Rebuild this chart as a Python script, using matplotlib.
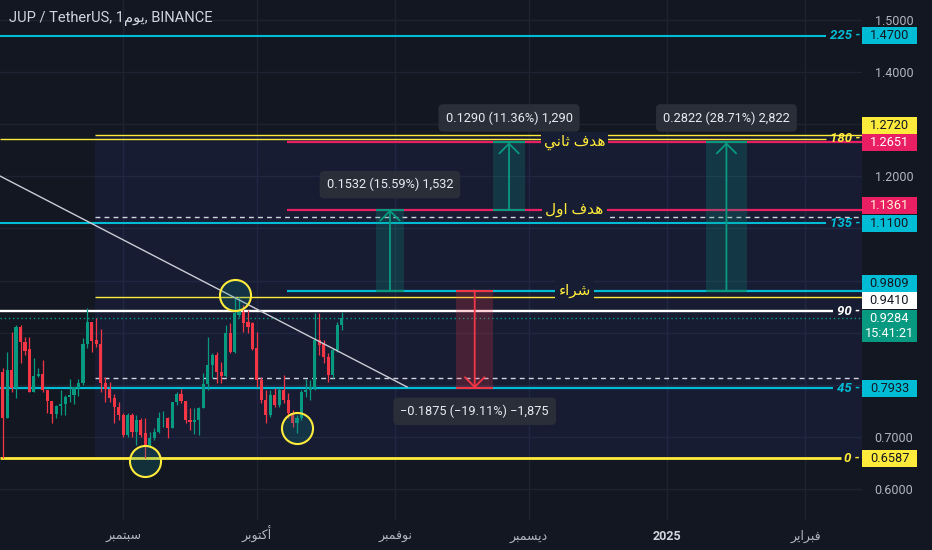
import numpy as np
import pandas as pd
import matplotlib
matplotlib.use('Agg')
import matplotlib.pyplot as plt
import matplotlib.dates as mdates
import matplotlib.transforms as mtransforms
from matplotlib.patches import Rectangle
from matplotlib.colors import to_rgb

plt.rcParams['font.family'] = ['Roboto', 'DejaVu Sans']

# ---------------- data ----------------
first_day = '2024-08-05'
opens = [0.8251, 0.7356, 0.8283, 0.7932, 0.9115, 0.8827, 0.8686, 0.7855, 0.8175, 0.8200,
         0.7900, 0.7689, 0.7433, 0.7599, 0.7625, 0.7772, 0.7804, 0.7932, 0.8028, 0.8776,
         0.9198, 0.8859, 0.8776, 0.8028, 0.7912, 0.7740, 0.7580, 0.7420, 0.7036, 0.7420,
         0.7100, 0.7324, 0.7068, 0.6812, 0.6972, 0.7088, 0.7356, 0.7369, 0.7177, 0.7663,
         0.7817, 0.7689, 0.7324, 0.7279, 0.7324, 0.7561, 0.8015, 0.8379, 0.8571, 0.8251,
         0.8175, 0.8987, 0.8635, 0.9339, 0.9403, 0.9211, 0.9179, 0.8699, 0.8091, 0.7708,
         0.7420, 0.7804, 0.7612, 0.7900, 0.7708, 0.7452, 0.7260, 0.7356, 0.7868, 0.7900,
         0.7932, 0.8859, 0.8795, 0.8539, 0.8187, 0.8667, 0.9147]
highs = [0.8315, 0.8635, 0.9019, 0.9147, 0.9147, 0.8923, 0.8923, 0.8507, 0.8315, 0.8475,
         0.7900, 0.7689, 0.7612, 0.7900, 0.7804, 0.8111, 0.7964, 0.8111, 0.8891, 0.9467,
         0.9198, 0.9275, 0.9070, 0.8156, 0.8060, 0.7817, 0.7676, 0.7452, 0.7452, 0.7452,
         0.7420, 0.7356, 0.7356, 0.7100, 0.7177, 0.7484, 0.7497, 0.7388, 0.7676, 0.7855,
         0.7919, 0.7689, 0.7548, 0.7548, 0.7580, 0.8219, 0.8923, 0.8603, 0.8635, 0.8443,
         0.9147, 0.9179, 0.9691, 0.9691, 0.9531, 0.9435, 0.9211, 0.9019, 0.8155, 0.7900,
         0.7900, 0.7932, 0.7932, 0.8187, 0.7836, 0.7516, 0.7420, 0.7900, 0.8104, 0.8091,
         0.9371, 0.9384, 0.8859, 0.8603, 0.8699, 0.9211, 0.9403]
lows = [0.6588, 0.7356, 0.7868, 0.7740, 0.8411, 0.8571, 0.7855, 0.7855, 0.8156, 0.7855,
        0.7452, 0.7260, 0.7356, 0.7420, 0.7420, 0.7676, 0.7625, 0.7791, 0.7996, 0.8699,
        0.8635, 0.8731, 0.7868, 0.7676, 0.7676, 0.7260, 0.7324, 0.7004, 0.7004, 0.7004,
        0.6844, 0.7004, 0.6588, 0.6812, 0.6940, 0.7068, 0.7196, 0.6972, 0.7164, 0.7612,
        0.7644, 0.7260, 0.7132, 0.7049, 0.7036, 0.7548, 0.7900, 0.8124, 0.8028, 0.8028,
        0.8156, 0.8603, 0.8603, 0.9307, 0.9019, 0.8987, 0.8667, 0.7964, 0.7644, 0.7260,
        0.7388, 0.7580, 0.7580, 0.7644, 0.7356, 0.7196, 0.7068, 0.7324, 0.7772, 0.7708,
        0.7900, 0.8571, 0.8411, 0.8059, 0.8123, 0.8635, 0.9051]
closes = [0.7356, 0.8283, 0.7932, 0.9115, 0.8827, 0.8648, 0.7855, 0.8175, 0.8200, 0.7900,
          0.7689, 0.7433, 0.7599, 0.7637, 0.7772, 0.7804, 0.7951, 0.8028, 0.8776, 0.9198,
          0.8840, 0.8776, 0.8028, 0.7912, 0.7740, 0.7580, 0.7420, 0.7036, 0.7420, 0.7100,
          0.7324, 0.7036, 0.6812, 0.6972, 0.7088, 0.7356, 0.7369, 0.7177, 0.7663, 0.7817,
          0.7689, 0.7324, 0.7279, 0.7324, 0.7561, 0.8015, 0.8379, 0.8571, 0.8251, 0.8175,
          0.8987, 0.8635, 0.9371, 0.9435, 0.9179, 0.9115, 0.8680, 0.8091, 0.7708, 0.7420,
          0.7804, 0.7612, 0.7900, 0.7708, 0.7452, 0.7260, 0.7356, 0.7868, 0.7900, 0.7964,
          0.8859, 0.8763, 0.8539, 0.8187, 0.8667, 0.9147, 0.9284]

title_text = ['JUP / TetherUS, 1', 'يوم', ', BINANCE']

level_names = ['0', '45', '90', '135', '180', '225']
level_prices = [0.6587, 0.7933, 0.9410, 1.1100, 1.2720, 1.4700]

buy_price = 0.9809
target1_price = 1.1361
target2_price = 1.2651
stop_price = 0.7933
last_price = 0.9284
countdown = '15:41:21'

zone_low, zone_high = 0.6587, 1.2795
dashed_prices = [1.1225, 0.8124]

trend_days = [3.4, 94.7]          # days after 2024-08-01
trend_prices = [1.2006, 0.7957]

circle_days = [35.9, 56.0, 70.0]
circle_prices = [0.6541, 0.9732, 0.7180]

measure_days = [(87.7, 94.0), (114.0, 121.1), (161.7, 170.9), (105.7, 114.0)]
measure_from = [0.9809, 1.1361, 0.9809, 0.9809]
measure_to = [1.1361, 1.2651, 1.2651, 0.7933]
measure_labels = ['0.1532 (15.59%) 1,532', '0.1290 (11.36%) 1,290',
                  '0.2822 (28.71%) 2,822', '\u22120.1875 (\u221219.11%) \u22121,875']

line_labels = ['هدف ثاني', 'هدف اول', 'شراء']
line_label_prices = [target2_price, target1_price, buy_price]

month_dates = ['2024-09-01', '2024-10-01', '2024-11-01', '2024-12-01', '2025-01-01', '2025-02-01']
month_labels = ['سبتمبر', 'أكتوبر', 'نوفمبر', 'ديسمبر', '2025', 'فبراير']
price_ticks = [0.6, 0.7, 0.8, 0.9, 1.0, 1.1, 1.2, 1.3, 1.4, 1.5]
price_ticks_shown = [0.6, 0.7, 1.2, 1.4, 1.5]   # the rest sit under price tags

# ---------------- Arabic shaping (presentation forms) ----------------
AR = {
    '\u0621': ('\uFE80', None, None, None),
    '\u0623': ('\uFE83', '\uFE84', None, None),
    '\u0627': ('\uFE8D', '\uFE8E', None, None),
    '\u0628': ('\uFE8F', '\uFE90', '\uFE91', '\uFE92'),
    '\u062A': ('\uFE95', '\uFE96', '\uFE97', '\uFE98'),
    '\u062B': ('\uFE99', '\uFE9A', '\uFE9B', '\uFE9C'),
    '\u062F': ('\uFEA9', '\uFEAA', None, None),
    '\u0631': ('\uFEAD', '\uFEAE', None, None),
    '\u0633': ('\uFEB1', '\uFEB2', '\uFEB3', '\uFEB4'),
    '\u0634': ('\uFEB5', '\uFEB6', '\uFEB7', '\uFEB8'),
    '\u0641': ('\uFED1', '\uFED2', '\uFED3', '\uFED4'),
    '\u0643': ('\uFED9', '\uFEDA', '\uFEDB', '\uFEDC'),
    '\u0644': ('\uFEDD', '\uFEDE', '\uFEDF', '\uFEE0'),
    '\u0645': ('\uFEE1', '\uFEE2', '\uFEE3', '\uFEE4'),
    '\u0646': ('\uFEE5', '\uFEE6', '\uFEE7', '\uFEE8'),
    '\u0647': ('\uFEE9', '\uFEEA', '\uFEEB', '\uFEEC'),
    '\u0648': ('\uFEED', '\uFEEE', None, None),
    '\u064A': ('\uFEF1', '\uFEF2', '\uFEF3', '\uFEF4'),
}


def shape(s):
    if not any(ch in AR for ch in s):
        return s
    out = []
    n = len(s)
    for i, ch in enumerate(s):
        f = AR.get(ch)
        if f is None:
            out.append(ch)
            continue
        prv = AR.get(s[i - 1]) if i > 0 else None
        nxt = AR.get(s[i + 1]) if i < n - 1 else None
        jp = prv is not None and prv[2] is not None and f[1] is not None
        jn = nxt is not None and f[2] is not None and nxt[1] is not None
        if jp and jn:
            out.append(f[3])
        elif jp:
            out.append(f[1])
        elif jn:
            out.append(f[2])
        else:
            out.append(f[0])
    return ''.join(reversed(out))


# ---------------- figure ----------------
W, H = 932, 550
BG = '#131722'
CYAN = '#00bcd4'
YEL = '#ffeb3b'
PINK = '#e91e63'
UP = '#089981'
DN = '#f23645'
TXT = '#b2b5be'
RECT_C = '#2d3c8f'
RECT_A = 0.16
mask_c = tuple(RECT_A * np.array(to_rgb(RECT_C)) + (1 - RECT_A) * np.array(to_rgb(BG)))

fig = plt.figure(figsize=(W / 100, H / 100), dpi=100, facecolor=BG)
ax = fig.add_axes([0, 30 / H, 862 / W, 520 / H])
ax.set_facecolor(BG)
for sp in ax.spines.values():
    sp.set_visible(False)

base = mdates.date2num(pd.Timestamp('2024-08-01'))
xl0, xl1 = base + 3.4, base + 196.7
ax.set_xlim(xl0, xl1)
ax.set_ylim(0.5405, 1.5384)
blend = mtransforms.blended_transform_factory(ax.transAxes, ax.transData)

# grid + ticks
ax.set_axisbelow(True)
ax.grid(True, color='#1f2331', lw=1)
ax.yaxis.tick_right()
ax.set_yticks(price_ticks)
ax.set_yticklabels([f'{p:.4f}' if any(abs(p - q) < 1e-9 for q in price_ticks_shown) else ''
                    for p in price_ticks])
ax.tick_params(axis='y', length=0, pad=9, labelsize=9, labelcolor=TXT)
mx = [mdates.date2num(pd.Timestamp(d)) for d in month_dates]
ax.set_xticks(mx)
ax.set_xticklabels([shape(m) for m in month_labels])
ax.tick_params(axis='x', length=0, pad=14.5, labelsize=9, labelcolor=TXT)
for t in ax.get_xticklabels():
    t.set_verticalalignment('baseline')
    if t.get_text() == '2025':
        t.set_fontweight('bold')
        t.set_color('#d1d4dc')

# zone rectangle
zx0 = base + 24.7
ax.add_patch(Rectangle((zx0, zone_low), xl1 - zx0 + 5, zone_high - zone_low,
                       fc=RECT_C, alpha=RECT_A, ec='none', zorder=1))
ax.hlines([zone_high, (zone_high + zone_low) / 2], zx0, xl1 + 5, colors=YEL, lw=1.0, zorder=2)
ax.hlines(dashed_prices, zx0, xl1 - 0.5, colors='#d1d4dc', lw=1.0, linestyles=(0, (3.5, 3)), zorder=2)

# gann levels
level_colors = [YEL, CYAN, '#ffffff', CYAN, YEL, CYAN]
level_lw = [2.0, 1.6, 1.7, 1.5, 1.0, 1.5]
for name, p, col, lw in zip(level_names, level_prices, level_colors, level_lw):
    end_px = 862 - 14 - 7.5 * len(name)
    ax.plot([0, end_px / 862], [p, p], transform=blend, color=col, lw=lw, zorder=2,
            solid_capstyle='butt')
    ax.text(860 / 862, p, f'{name} -', transform=blend, ha='right', va='center',
            color=col, fontsize=9.5, style='italic', fontweight='bold', zorder=6)

# current price line
ax.axhline(last_price, color=UP, lw=1, linestyle=(0, (1, 2)), zorder=2)

# target/buy lines
lstart = base + 67.8
ax.hlines([target2_price, target1_price], lstart, xl1 + 5, colors=PINK, lw=1.6, zorder=2.2)
ax.hlines([buy_price], lstart, xl1 + 5, colors=CYAN, lw=1.6, zorder=2.2)

# candles
xs = mdates.date2num(pd.date_range(first_day, periods=len(opens), freq='D'))
o = np.array(opens); h = np.array(highs); l = np.array(lows); c = np.array(closes)
cols = np.where(c >= o, UP, DN)
ax.vlines(xs, l, h, colors=cols, lw=0.9, zorder=3)
ax.bar(xs, np.maximum(np.abs(c - o), 0.0015), bottom=np.minimum(o, c), width=0.7,
       color=cols, linewidth=0, zorder=3.5)

# trend line
ax.plot([base + d for d in trend_days], trend_prices, color='#c9ccd4', lw=1.0, zorder=4)

# circles
ax.scatter([base + d for d in circle_days], circle_prices, s=500,
           facecolors=[(0.05, 0.55, 0.55, 0.22)], edgecolors=YEL, linewidths=1.5, zorder=5)

# measurement tools
label_dys = [25, 24.5, 24.5, -23]
for (d0, d1), pf, pt, lab, ldy in zip(measure_days, measure_from, measure_to, measure_labels, label_dys):
    col = UP if pt > pf else DN
    xa, xb = base + d0, base + d1
    ax.add_patch(Rectangle((xa, min(pf, pt)), xb - xa, abs(pt - pf), fc=col, alpha=0.22,
                           ec='none', zorder=2.5))
    ax.hlines([pf, pt], xa, xb, colors=col, lw=1.5, zorder=2.6)
    xc = (xa + xb) / 2
    ax.annotate('', xy=(xc, pt), xytext=(xc, pf),
                arrowprops=dict(arrowstyle='->,head_length=0.7,head_width=0.7', color=col,
                                lw=1.3, shrinkA=0, shrinkB=0), zorder=2.7)
    ax.annotate(lab, xy=(xc, pt), xytext=(0, ldy), textcoords='offset pixels',
                ha='center', va='center', fontsize=9.2, color='#e8eaf0', zorder=7,
                bbox=dict(boxstyle='round,pad=0.55,rounding_size=0.35', fc='#2a2e39', ec='none'))

# Arabic line labels
lx = (lstart + xl1) / 2
for txt, p in zip(line_labels, line_label_prices):
    ax.text(lx, p, shape(txt), ha='center', va='center', color=YEL, fontsize=11,
            zorder=6, bbox=dict(boxstyle='square,pad=0.2', fc=mask_c, ec='none'))

# title
title = title_text[0] + shape(title_text[1]) + title_text[2]
fig.text(9 / W, 1 - 18 / H, title, ha='left', va='center', color='#d1d4dc', fontsize=10.5)

# right price-scale tags
fig.canvas.draw()


def tag(price, text, fc, tc, dy=0.0, h=17):
    y = ax.transData.transform((xl0, price))[1] + dy
    fig.add_artist(Rectangle((862 / W, (y - h / 2) / H), 55 / W, h / H, transform=fig.transFigure,
                             fc=fc, ec='none', zorder=5))
    fig.text(889.5 / W, y / H, text, ha='center', va='center', color=tc, fontsize=9.2,
             zorder=6, linespacing=1.15)


tag(1.4700, '1.4700', CYAN, '#131722', 0)
tag(1.2720, '1.2720', YEL, '#131722', 13)
tag(target2_price, f'{target2_price:.4f}', PINK, '#ffffff', 0)
tag(target1_price, f'{target1_price:.4f}', PINK, '#fff4d6', 4)
tag(1.1100, '1.1100', CYAN, '#131722', 0)
tag(buy_price, f'{buy_price:.4f}', CYAN, '#131722', 7.5)
tag(0.9410, '0.9410', '#ffffff', '#131722', 10.5)
tag(last_price, f'{last_price:.4f}\n{countdown}', UP, '#ffffff', -8, 32)
tag(stop_price, f'{stop_price:.4f}', CYAN, '#131722', 0)
tag(0.6587, '0.6587', YEL, '#131722', 0)

fig.savefig('out.png', dpi=100, facecolor=BG)
